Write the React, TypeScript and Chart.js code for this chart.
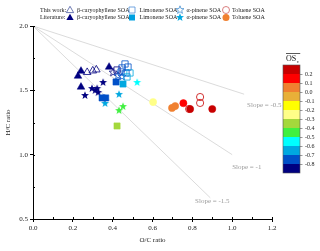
import React, { useEffect, useRef } from "react";
import { Chart, registerables } from "chart.js";
Chart.register(...registerables);

// ---- data (O/C ratio, H/C ratio) ----
const caryoWorkOC = [0.272, 0.300, 0.318];
const caryoWorkHC = [1.640, 1.652, 1.660];
const caryoLitOC = [0.241, 0.226, 0.241, 0.382];
const caryoLitHC = [1.650, 1.611, 1.526, 1.681];

const limoWorkOC = [0.462, 0.477, 0.447, 0.422, 0.442, 0.467, 0.487, 0.472];
const limoWorkHC = [1.705, 1.681, 1.674, 1.658, 1.643, 1.635, 1.635, 1.604];
const limoLitOC = [0.417, 0.452, 0.347, 0.365, 0.422];
const limoLitHC = [1.565, 1.549, 1.441, 1.441, 1.223];

const pineneWorkOC = [0.402, 0.427, 0.447];
const pineneWorkHC = [1.643, 1.619, 1.611];
const pineneLitOC = [0.352, 0.261, 0.296, 0.312, 0.327, 0.322, 0.523, 0.432, 0.362, 0.452, 0.432];
const pineneLitHC = [1.565, 1.464, 1.518, 1.503, 1.487, 1.518, 1.565, 1.472, 1.402, 1.378, 1.347];

const tolueneWorkOC = [0.839, 0.839, 0.784];
const tolueneWorkHC = [1.448, 1.402, 1.355];
const tolueneLitOC = [0.603, 0.698, 0.714, 0.755, 0.789, 0.900];
const tolueneLitHC = [1.409, 1.363, 1.378, 1.400, 1.355, 1.355];

// colour bar (OSc)
const osTicks = [0.2, 0.1, 0.0, -0.1, -0.2, -0.3, -0.4, -0.5, -0.6, -0.7, -0.8];
const osColors = ["#C80000", "#FF0000", "#F08030", "#E8B038", "#FFFF00", "#FFFF88", "#A4D83C", "#40F040", "#00FFFF", "#00A8E0", "#0050C8", "#000080"];

// reference lines through (0, 2)
const slopeValues = [-0.5, -1, -1.5];
const slopeEndOC = [1.06, 1.0, 0.89];
const slopeLabels = ["Slope = -0.5", "Slope = -1", "Slope = -1.5"];
const slopeLabelOC = [1.075, 1.0, 0.814];
const slopeLabelHC = [1.386, 0.904, 0.64];

const legendRows = ["This work:", "Literature:"];
const legendNames = ["β-caryophyllene SOA", "Limonene SOA", "α-pinene SOA", "Toluene SOA"];

const FONT = "'Liberation Serif', 'Times New Roman', serif";

function osc(oc: number, hc: number) {
  return 2 * oc - hc;
}
function oscColor(v: number) {
  if (v >= osTicks[0]) return osColors[0];
  for (let i = 1; i < osTicks.length; i++) if (v >= osTicks[i]) return osColors[i];
  return osColors[osColors.length - 1];
}

function traceStar(g: CanvasRenderingContext2D, cx: number, cy: number, r: number) {
  g.beginPath();
  for (let i = 0; i < 10; i++) {
    const a = -Math.PI / 2 + (i * Math.PI) / 5;
    const rr = i % 2 === 0 ? r : r * 0.42;
    g.lineTo(cx + rr * Math.cos(a), cy + rr * Math.sin(a));
  }
  g.closePath();
}
const starCache = new Map<string, HTMLCanvasElement>();
function starImg(color: string, filled: boolean, r: number) {
  const key = color + filled + r;
  const hit = starCache.get(key);
  if (hit) return hit;
  const s = Math.ceil(2 * r + 3);
  const c = document.createElement("canvas");
  c.width = s;
  c.height = s;
  const g = c.getContext("2d")!;
  traceStar(g, s / 2, s / 2 + 0.5, r);
  if (filled) {
    g.fillStyle = color;
    g.fill();
  } else {
    g.strokeStyle = color;
    g.lineWidth = 0.8;
    g.stroke();
  }
  starCache.set(key, c);
  return c;
}

function drawShape(g: CanvasRenderingContext2D, shape: string, x: number, y: number, color: string, filled: boolean) {
  g.save();
  g.beginPath();
  if (shape === "triangle") {
    const r = 4.2;
    g.moveTo(x, y - r);
    g.lineTo(x + r * 0.866, y + r * 0.5);
    g.lineTo(x - r * 0.866, y + r * 0.5);
    g.closePath();
  } else if (shape === "rect") {
    g.rect(x - 3, y - 3, 6, 6);
  } else if (shape === "star") {
    traceStar(g, x, y, 4.2);
  } else {
    g.arc(x, y, 3.5, 0, Math.PI * 2);
  }
  if (filled) {
    g.fillStyle = color;
    g.fill();
  } else {
    g.strokeStyle = color;
    g.lineWidth = 0.8;
    g.stroke();
  }
  g.restore();
}

const radiusFor: Record<string, number> = { triangle: 4.4, rect: 4.4, circle: 3.6, star: 4.2 };

function scatterSet(label: string, oc: number[], hc: number[], shape: string, filled: boolean) {
  const colors = oc.map((x, i) => oscColor(osc(x, hc[i])));
  return {
    type: "scatter" as const,
    label,
    data: oc.map((x, i) => ({ x, y: hc[i] })),
    pointStyle: shape === "star" ? colors.map((c) => starImg(c, filled, 4.2)) : shape,
    pointRadius: radiusFor[shape],
    pointBackgroundColor: filled ? colors : "rgba(0,0,0,0)",
    pointBorderColor: colors,
    pointBorderWidth: filled ? 0.5 : 0.8,
    showLine: false,
  };
}

const decor = {
  id: "decor",
  afterDatasetsDraw(chart: any) {
    const g: CanvasRenderingContext2D = chart.ctx;
    const xs = chart.scales.x;
    const ys = chart.scales.y;
    const ca = chart.chartArea;
    g.save();
    // inward ticks
    g.strokeStyle = "#000";
    g.lineWidth = 1;
    for (let v = 0; v <= 1.2001; v += 0.1) {
      const px = Math.round(xs.getPixelForValue(v)) + 0.5;
      g.beginPath();
      g.moveTo(px, ca.bottom);
      g.lineTo(px, ca.bottom - 2);
      g.stroke();
    }
    for (let v = 0.5; v <= 2.0001; v += 0.25) {
      const py = Math.round(ys.getPixelForValue(v)) + 0.5;
      g.beginPath();
      g.moveTo(ca.left, py);
      g.lineTo(ca.left + 2, py);
      g.stroke();
    }
    // slope labels
    g.fillStyle = "#999";
    g.font = `7px ${FONT}`;
    g.textBaseline = "middle";
    g.textAlign = "left";
    slopeLabels.forEach((t, i) => {
      g.fillText(t, xs.getPixelForValue(slopeLabelOC[i]), ys.getPixelForValue(slopeLabelHC[i]));
    });

    // colour bar
    const cbX = 283, cbW = 17, cbTop = 65, cbH = 9;
    osColors.forEach((c, i) => {
      g.fillStyle = c;
      g.fillRect(cbX, cbTop + i * cbH, cbW, cbH);
    });
    g.strokeStyle = "#555";
    g.lineWidth = 0.6;
    g.strokeRect(cbX, cbTop, cbW, cbH * osColors.length);
    g.fillStyle = "#222";
    g.font = `6px ${FONT}`;
    g.textAlign = "left";
    g.textBaseline = "middle";
    osTicks.forEach((t, i) => {
      const y = cbTop + (i + 1) * cbH;
      g.beginPath();
      g.moveTo(cbX + cbW, y + 0.5);
      g.lineTo(cbX + cbW + 2.5, y + 0.5);
      g.stroke();
      g.fillText(t.toFixed(1), cbX + cbW + 5, y);
    });
    // colour bar title: OS (overlined) with subscript c
    g.fillStyle = "#111";
    g.font = `8px ${FONT}`;
    g.textBaseline = "alphabetic";
    g.fillText("OS", 286, 61);
    const osW = g.measureText("OS").width;
    g.font = `5px ${FONT}`;
    g.fillText("c", 286 + osW + 0.5, 63);
    g.strokeStyle = "#111";
    g.lineWidth = 0.7;
    g.beginPath();
    g.moveTo(286, 53.5);
    g.lineTo(286 + osW + 4, 53.5);
    g.stroke();

    // legend
    g.font = `6px ${FONT}`;
    g.fillStyle = "#222";
    g.textBaseline = "middle";
    const rowY = [10, 17.5];
    const iconX = [70, 132, 180, 226];
    const textX = [77, 139.5, 186.5, 232];
    const shapes = ["triangle", "rect", "star", "circle"];
    const openCol = ["#4858A0", "#5090D8", "#4890D0", "#D06060"];
    const fillCol = ["#000080", "#00A0E0", "#00A8E0", "#F08030"];
    legendRows.forEach((r, ri) => {
      g.fillStyle = "#222";
      g.fillText(r, 40, rowY[ri]);
      legendNames.forEach((n, ni) => {
        drawShape(g, shapes[ni], iconX[ni], rowY[ri] + (shapes[ni] === "triangle" ? 0.5 : 0), ri === 0 ? openCol[ni] : fillCol[ni], ri === 1);
        g.fillStyle = "#222";
        g.fillText(n, textX[ni], rowY[ri]);
      });
    });
    g.restore();
  },
};

export default function App() {
  const ref = useRef<HTMLCanvasElement>(null);
  useEffect(() => {
    if (!ref.current) return;
    const slopeSets = slopeValues.map((s, i) => ({
      type: "scatter" as const,
      label: slopeLabels[i],
      data: [
        { x: 0, y: 2 },
        { x: slopeEndOC[i], y: 2 + s * slopeEndOC[i] },
      ],
      showLine: true,
      borderColor: "#d2d2d2",
      borderWidth: 0.8,
      pointRadius: 0,
      order: 10,
    }));
    const sets: any[] = [
      ...slopeSets,
      scatterSet("This work β-caryophyllene SOA", caryoWorkOC, caryoWorkHC, "triangle", false),
      scatterSet("This work Limonene SOA", limoWorkOC, limoWorkHC, "rect", false),
      scatterSet("This work α-pinene SOA", pineneWorkOC, pineneWorkHC, "star", false),
      scatterSet("This work Toluene SOA", tolueneWorkOC, tolueneWorkHC, "circle", false),
      scatterSet("Literature β-caryophyllene SOA", caryoLitOC, caryoLitHC, "triangle", true),
      scatterSet("Literature Limonene SOA", limoLitOC, limoLitHC, "rect", true),
      scatterSet("Literature α-pinene SOA", pineneLitOC, pineneLitHC, "star", true),
      scatterSet("Literature Toluene SOA", tolueneLitOC, tolueneLitHC, "circle", true),
    ];
    const chart = new Chart(ref.current, {
      type: "scatter",
      data: { datasets: sets },
      options: {
        responsive: false,
        animation: false,
        devicePixelRatio: 1,
        layout: { padding: { left: 0, top: 26, right: 48, bottom: 0 } },
        plugins: { legend: { display: false }, tooltip: { enabled: false } },
        scales: {
          x: {
            type: "linear",
            min: 0,
            max: 1.2,
            afterFit: (s: any) => {
              s.height = 32;
            },
            ticks: {
              stepSize: 0.2,
              padding: 2,
              color: "#222",
              font: { family: FONT, size: 7 },
              callback: (v: any) => Number(v).toFixed(1),
            },
            grid: { drawOnChartArea: false, drawTicks: true, tickLength: 3, color: "#000" },
            border: { display: true, color: "#000", width: 1 },
            title: { display: true, text: "O/C ratio", color: "#222", font: { family: FONT, size: 7 }, padding: { top: 0, bottom: 7 } },
          },
          y: {
            type: "linear",
            min: 0.5,
            max: 2.0,
            afterFit: (s: any) => {
              s.width = 33;
            },
            ticks: {
              stepSize: 0.5,
              padding: 2,
              color: "#222",
              font: { family: FONT, size: 7 },
              callback: (v: any) => Number(v).toFixed(1),
            },
            grid: { drawOnChartArea: false, drawTicks: true, tickLength: 3, color: "#000" },
            border: { display: true, color: "#000", width: 1 },
            title: { display: true, text: "H/C ratio", color: "#222", font: { family: FONT, size: 7 }, padding: { top: 4, bottom: 0 } },
          },
        },
      },
      plugins: [decor],
    } as any);
    return () => chart.destroy();
  }, []);
  return (
    <div style={{ position: "absolute", left: 0, top: 0, width: 320, height: 251, background: "#fff" }}>
      <canvas ref={ref} width={320} height={251} style={{ width: 320, height: 251 }} />
    </div>
  );
}
